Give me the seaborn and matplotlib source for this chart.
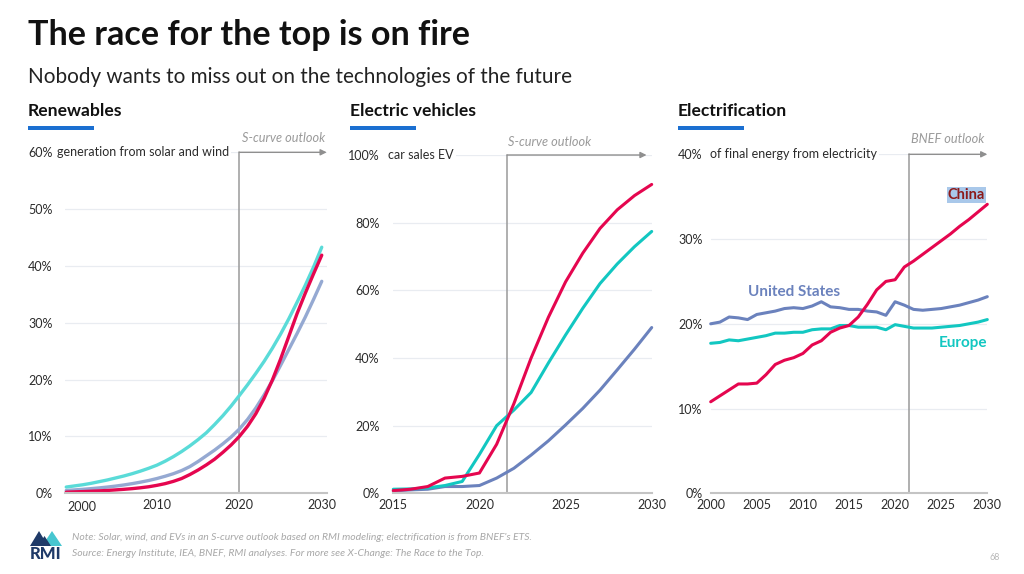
import matplotlib
matplotlib.use("Agg")
import matplotlib.pyplot as plt
from matplotlib.patches import Polygon, Rectangle
from matplotlib.transforms import ScaledTranslation
import numpy as np
import pandas as pd
import seaborn as sns

# ---------------- data ----------------
ren_years = list(range(1999, 2031))
ren_cyan = [1.1, 1.3, 1.5, 1.75, 2.05, 2.35, 2.7, 3.05, 3.45, 3.9, 4.4, 4.95, 5.65, 6.45, 7.35,
            8.35, 9.45, 10.65, 12.1, 13.65, 15.35, 17.2, 19.1, 21.1, 23.2, 25.5, 28.0, 30.7,
            33.6, 36.6, 39.8, 43.3]
ren_gray = [0.5, 0.6, 0.7, 0.82, 0.95, 1.1, 1.27, 1.47, 1.7, 1.96, 2.25, 2.6, 3.0, 3.45, 4.0,
            4.7, 5.6, 6.6, 7.6, 8.7, 9.9, 11.3, 13.0, 15.0, 17.3, 19.8, 22.5, 25.3, 28.1,
            31.0, 34.1, 37.3]
ren_red = [0.2, 0.25, 0.3, 0.36, 0.43, 0.5, 0.6, 0.7, 0.82, 0.97, 1.15, 1.4, 1.7, 2.1, 2.6,
           3.3, 4.1, 5.0, 6.0, 7.2, 8.5, 10.0, 11.8, 14.0, 16.7, 19.9, 23.6, 27.6, 31.6,
           35.2, 38.6, 41.9]

ev_years = list(range(2015, 2031))
ev_china = [0.8, 1.2, 2.0, 4.5, 5.0, 6.0, 14.5, 26.5, 40.0, 52.0, 62.5, 71.0, 78.3, 83.8, 88.0, 91.3]
ev_europe = [1.2, 1.3, 1.6, 2.3, 3.5, 11.5, 20.0, 24.6, 29.8, 38.5, 46.8, 54.7, 62.0, 67.8, 72.9, 77.4]
ev_us = [0.7, 1.0, 1.2, 2.0, 2.0, 2.3, 4.5, 7.4, 11.3, 15.5, 20.2, 25.1, 30.5, 36.5, 42.6, 49.0]

el_years = list(range(2000, 2031))
el_china = [10.8, 11.5, 12.2, 12.9, 12.9, 13.0, 14.0, 15.2, 15.7, 16.0, 16.5, 17.5, 18.0, 19.0,
            19.5, 19.8, 20.8, 22.3, 24.0, 25.0, 25.2, 26.7, 27.4, 28.2, 29.0, 29.8, 30.6,
            31.5, 32.3, 33.2, 34.1]
el_us = [20.0, 20.2, 20.8, 20.7, 20.5, 21.1, 21.3, 21.5, 21.8, 21.9, 21.8, 22.1, 22.6, 22.0,
         21.9, 21.7, 21.7, 21.5, 21.4, 21.0, 22.6, 22.2, 21.7, 21.6, 21.7, 21.8, 22.0,
         22.2, 22.5, 22.8, 23.2]
el_europe = [17.7, 17.8, 18.1, 18.0, 18.2, 18.4, 18.6, 18.9, 18.9, 19.0, 19.0, 19.3, 19.4, 19.4,
             19.8, 19.8, 19.6, 19.6, 19.6, 19.3, 19.9, 19.7, 19.5, 19.5, 19.5, 19.6, 19.7,
             19.8, 20.0, 20.2, 20.5]

ren_ticks_x = [2000, 2010, 2020, 2030]
ren_ticks_y = [0, 10, 20, 30, 40, 50, 60]
ev_ticks_x = [2015, 2020, 2025, 2030]
ev_ticks_y = [0, 20, 40, 60, 80, 100]
el_ticks_x = [2000, 2005, 2010, 2015, 2020, 2025, 2030]
el_ticks_y = [0, 10, 20, 30, 40]

# ---------------- style ----------------
sns.set_theme(style="white")
plt.rcParams['font.family'] = ['Lato', 'DejaVu Sans']

W, H = 1024, 574
fig = plt.figure(figsize=(W / 100, H / 100), dpi=100)
fig.patch.set_facecolor("white")

def fx(px):
    return px / W

def fy(py):
    return 1 - py / H

RED = "#e5064f"
CYAN_L = "#5adbd8"
GRAY_L = "#95a9d2"
CYAN = "#12c7c1"
BLUE = "#6b82bd"
GRID = "#e9ecf1"
TXT = "#2b2b2b"

def make_ax(l, r, b, t):
    return fig.add_axes([fx(l), fy(b), fx(r) - fx(l), fy(t) - fy(b)])

ax1 = make_ax(65, 326.7, 493.3, 152.3)
ax2 = make_ax(393.3, 651.7, 493.3, 155)
ax3 = make_ax(710.7, 987.3, 493.3, 154.3)

def lines(ax, years, series, colors, lw):
    for vals, c in zip(series, colors):
        df = pd.DataFrame({"year": years, "v": vals})
        sns.lineplot(data=df, x="year", y="v", ax=ax, color=c, linewidth=lw,
                     legend=False, clip_on=False, solid_capstyle="round",
                     solid_joinstyle="round")

lines(ax1, ren_years, [ren_gray, ren_cyan, ren_red], [GRAY_L, CYAN_L, RED], 2.4)
lines(ax2, ev_years, [ev_us, ev_europe, ev_china], [BLUE, CYAN, RED], 2.2)
lines(ax3, el_years, [el_us, el_europe, el_china], [BLUE, CYAN, RED], 2.2)

def style(ax, xlim, ylim, xt, yt, ypad):
    ax.set_xlim(*xlim)
    ax.set_ylim(*ylim)
    ax.set_xticks(xt)
    ax.set_xticklabels([str(v) for v in xt])
    ax.set_yticks(yt)
    ax.set_yticklabels([f"{v}%" for v in yt])
    ax.set_xlabel("")
    ax.set_ylabel("")
    for s in ["left", "right", "top"]:
        ax.spines[s].set_visible(False)
    ax.spines["bottom"].set_color("#c4c4c4")
    ax.spines["bottom"].set_linewidth(1.5)
    ax.tick_params(axis="both", length=0, labelsize=9, colors=TXT)
    ax.tick_params(axis="x", pad=4)
    ax.tick_params(axis="y", pad=ypad)
    ax.yaxis.grid(True, color=GRID, linewidth=0.9)
    ax.xaxis.grid(False)
    ax.set_axisbelow(True)
    ax.set_facecolor("white")

style(ax1, (1998.85, 2030.6), (0, 60), ren_ticks_x, ren_ticks_y, 9)
style(ax2, (2015, 2030), (0, 100), ev_ticks_x, ev_ticks_y, 10)
style(ax3, (2000, 2030), (0, 40), el_ticks_x, el_ticks_y, 6)

# shift the first renewables year label a little right, as in the original
lab0 = ax1.get_xticklabels()[0]
lab0.set_transform(lab0.get_transform() + ScaledTranslation(7 / 100, -2 / 100, fig.dpi_scale_trans))

# outlook markers
def outlook(ax, x0, xend, ytop):
    ax.plot([x0, x0], [0, ytop], color="#9a9a9a", lw=1.1, clip_on=False, zorder=1)
    ax.annotate("", xy=(xend, ytop), xytext=(x0, ytop),
                arrowprops=dict(arrowstyle="-|>", color="#8f8f8f", lw=1.0,
                                mutation_scale=9, shrinkA=0, shrinkB=0),
                annotation_clip=False)

outlook(ax1, 2020.0, 2030.6, 60)
outlook(ax2, 2021.6, 2029.7, 100)
outlook(ax3, 2021.5, 2030.0, 40)

gray_it = dict(color="#9a9a9a", fontsize=9.2, style="italic", va="center")
fig.text(fx(325), fy(138), "S-curve outlook", ha="right", **gray_it)
fig.text(fx(508), fy(142), "S-curve outlook", ha="left", **gray_it)
fig.text(fx(984), fy(139), "BNEF outlook", ha="right", **gray_it)

unit_kw = dict(color=TXT, fontsize=9, va="center", ha="left",
               bbox=dict(facecolor="white", edgecolor="none", pad=1.5))
fig.text(fx(57), fy(152.3), "generation from solar and wind", **unit_kw)
fig.text(fx(388), fy(155), "car sales EV", **unit_kw)
fig.text(fx(710), fy(154.3), "of final energy from electricity", **unit_kw)

# series labels in electrification panel
fig.text(fx(985), fy(195), "China", ha="right", va="center", fontsize=10.5,
         fontweight="bold", color="#8c1a1a",
         bbox=dict(facecolor="#a9c8ea", edgecolor="none", pad=0.8))
fig.text(fx(794), fy(292), "United States", ha="center", va="center", fontsize=11,
         fontweight="bold", color=BLUE)
fig.text(fx(987), fy(343), "Europe", ha="right", va="center", fontsize=11,
         fontweight="bold", color=CYAN)

# titles
fig.text(fx(28), fy(35), "The race for the top is on fire", ha="left", va="center",
         fontsize=24.6, fontweight="bold", color="#111111")
fig.text(fx(28), fy(77), "Nobody wants to miss out on the technologies of the future",
         ha="left", va="center", fontsize=14.9, color="#222222")

for x, name in [(28, "Renewables"), (350, "Electric vehicles"), (678, "Electrification")]:
    fig.text(fx(x), fy(111), name, ha="left", va="center", fontsize=12.6,
             fontweight="bold", color="#111111")
    fig.patches.append(Rectangle((fx(x), fy(129.5)), fx(66), 3.2 / H,
                                 transform=fig.transFigure, facecolor="#1b6fd1",
                                 edgecolor="none"))

# footer: logo
navy = "#1f3a68"
teal = "#47c6d0"
fig.patches.append(Polygon([(fx(30), fy(546)), (fx(39), fy(531)), (fx(48), fy(546))],
                           closed=True, transform=fig.transFigure, facecolor=navy,
                           edgecolor="none"))
fig.patches.append(Polygon([(fx(42), fy(546)), (fx(52), fy(531)), (fx(62), fy(546))],
                           closed=True, transform=fig.transFigure, facecolor=teal,
                           edgecolor="none"))
fig.patches.append(Polygon([(fx(38), fy(546)), (fx(44.5), fy(536)), (fx(51), fy(546))],
                           closed=True, transform=fig.transFigure, facecolor=navy,
                           edgecolor="none"))
fig.text(fx(46), fy(554), "RMI", ha="center", va="center", fontsize=12,
         fontweight="black", color=navy)

note_kw = dict(ha="left", va="center", fontsize=7.5, style="italic", color="#a8a8a8")
fig.text(fx(72), fy(538), "Note: Solar, wind, and EVs in an S-curve outlook based on RMI "
         "modeling; electrification is from BNEF's ETS.", **note_kw)
fig.text(fx(72), fy(554), "Source: Energy Institute, IEA, BNEF, RMI analyses. For more see "
         "X-Change: The Race to the Top.", **note_kw)
fig.text(fx(995), fy(558), "68", ha="center", va="center", fontsize=6.5, color="#b8b8b8")

fig.savefig("out.png", dpi=100, facecolor="white")
